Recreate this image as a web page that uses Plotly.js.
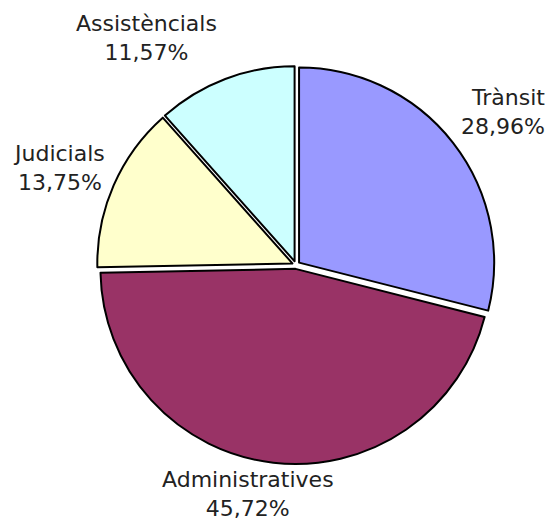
<!DOCTYPE html>
<html>
<head>
<meta charset="utf-8">
<script src="https://cdn.plot.ly/plotly-3.0.1.min.js"></script>
<style>html,body{margin:0;padding:0;background:#fff;}#chart{width:552px;height:520px;}</style>
</head>
<body>
<div id="chart"></div>
<script>
const categories = ["Trànsit", "Administratives", "Judicials", "Assistèncials"];
const percentages = [28.96, 45.72, 13.75, 11.57];
const colors = ["#9999FF", "#993366", "#FFFFCC", "#CCFFFF"];

// label placement (paper coords) for each category
const labelX = [0.991, 0.449, 0.107, 0.2645];
const labelY = [0.785, 0.05, 0.677, 0.927];
const labelAnchor = ["right", "center", "center", "center"];

const fontFamily = "DejaVu Sans, Verdana, sans-serif";
const total = percentages.reduce((a, b) => a + b, 0);
const fmt = v => (v / total * 100).toFixed(2).replace(".", ",") + "%";

const annotations = categories.map((c, i) => ({
  xref: "paper", yref: "paper",
  x: labelX[i], y: labelY[i],
  xanchor: labelAnchor[i], yanchor: "middle",
  align: labelAnchor[i] === "right" ? "right" : "center",
  text: c + "<br>" + fmt(percentages[i]),
  showarrow: false,
  font: { family: fontFamily, size: 22, color: "#222222" }
}));

Plotly.newPlot("chart", [{
  type: "pie",
  labels: categories,
  values: percentages,
  sort: false,
  direction: "clockwise",
  rotation: 0,
  pull: [0.02, 0.02, 0.02, 0.02],
  marker: { colors: colors, line: { color: "#000000", width: 2 } },
  textinfo: "none",
  hoverinfo: "none",
  automargin: false,
  domain: { x: [0.1757, 0.8967], y: [0.1077, 0.8731] }
}], {
  width: 552,
  height: 520,
  margin: { l: 0, r: 0, t: 0, b: 0 },
  showlegend: false,
  separators: ",.",
  paper_bgcolor: "#ffffff",
  font: { family: fontFamily, size: 22, color: "#222222" },
  annotations: annotations
}, { displayModeBar: false, staticPlot: true });
</script>
</body>
</html>
